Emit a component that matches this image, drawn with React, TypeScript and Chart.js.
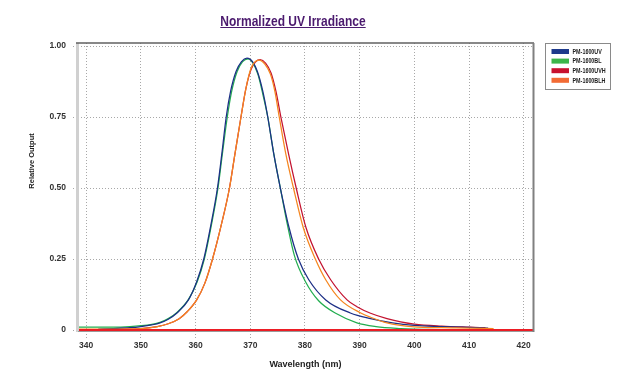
import React, { useEffect, useRef } from "react";
import { Chart, registerables } from "chart.js";

Chart.register(...registerables);

const seriesLabels = ["PM-1600UV", "PM-1600BL", "PM-1600UVH", "PM-1600BLH"];

const uvX = [342.2, 345, 348, 350, 352, 353.5, 355, 356.6, 358.7, 360.2, 361.5, 362.8, 364.0, 364.8, 365.6, 366.4, 367.4, 368.4, 369.4, 370.4, 371.3, 372.3, 373.2, 374.3, 375.5, 377.1, 378.8, 380.7, 383.8, 388.3, 392, 396, 400, 405, 410, 413.5];
const uvY = [0.003, 0.005, 0.008, 0.012, 0.018, 0.025, 0.038, 0.06, 0.106, 0.17, 0.25, 0.37, 0.5, 0.62, 0.75, 0.84, 0.91, 0.945, 0.957, 0.945, 0.91, 0.84, 0.75, 0.62, 0.5, 0.36, 0.25, 0.177, 0.106, 0.06, 0.04, 0.025, 0.016, 0.012, 0.009, 0.007];

const blX = [338.5, 345, 348, 350, 352, 353.5, 355, 356.6, 358.7, 360.3, 361.6, 362.9, 364.1, 364.9, 365.8, 366.6, 367.6, 368.6, 369.6, 370.5, 371.4, 372.3, 373.2, 374.3, 375.5, 376.8, 378.1, 380.1, 382.5, 385.8, 389.5, 393, 397.5, 400, 410, 421.7];
const blY = [0.01, 0.01, 0.012, 0.015, 0.02, 0.027, 0.04, 0.062, 0.108, 0.17, 0.25, 0.37, 0.5, 0.62, 0.75, 0.84, 0.91, 0.945, 0.955, 0.94, 0.9, 0.83, 0.75, 0.62, 0.5, 0.37, 0.26, 0.17, 0.103, 0.057, 0.025, 0.012, 0.005, 0.003, 0.001, 0];

const uvhX = [345, 350, 353, 355, 357, 358.5, 360.2, 361.7, 363.1, 364.7, 366.2, 367.2, 368.3, 369.2, 370.2, 371.8, 372.8, 373.8, 374.7, 375.6, 377.0, 378.4, 380.2, 382.5, 384.7, 387.7, 389.5, 392, 395, 397.5, 400, 405, 410, 413];
const uvhY = [0.002, 0.005, 0.012, 0.022, 0.04, 0.065, 0.106, 0.165, 0.25, 0.37, 0.5, 0.62, 0.75, 0.85, 0.92, 0.952, 0.94, 0.905, 0.84, 0.75, 0.62, 0.5, 0.36, 0.25, 0.177, 0.106, 0.082, 0.059, 0.04, 0.029, 0.021, 0.014, 0.01, 0.008];

const blhX = [338.5, 345, 348, 350, 353, 355, 357, 358.5, 360.2, 361.7, 363.1, 364.7, 366.2, 367.2, 368.3, 369.2, 370.1, 371.6, 372.7, 373.7, 374.5, 375.3, 376.5, 377.9, 379.7, 381.9, 383.8, 386.5, 390.2, 392, 395, 400, 405, 410, 414.5];
const blhY = [0.003, 0.003, 0.004, 0.005, 0.012, 0.022, 0.04, 0.065, 0.106, 0.165, 0.25, 0.37, 0.5, 0.62, 0.75, 0.85, 0.92, 0.95, 0.935, 0.9, 0.84, 0.75, 0.62, 0.5, 0.36, 0.25, 0.177, 0.106, 0.06, 0.045, 0.025, 0.011, 0.008, 0.007, 0.005];

const baselineX = [338.5, 421.7];
const baselineY = [0, 0];

const xTicks = [340, 350, 360, 370, 380, 390, 400, 410, 420];
const yTicks = [0, 0.25, 0.5, 0.75, 1.0];

const lineColors = ["#1c2f86", "#22ad4f", "#c3122f", "#f5861f"];
const swatchColors = ["#1e3a8c", "#3cb54a", "#c8102e", "#f26b35"];
const drawOrder = [2, 3, 4, 1];

const zip = (xs: number[], ys: number[]) => xs.map((x, i) => ({ x, y: ys[i] }));

const framePlugin = {
  id: "frame",
  afterDatasetsDraw(chart: any) {
    const { ctx, chartArea: a } = chart;
    ctx.save();
    ctx.lineWidth = 3;
    ctx.strokeStyle = "#d0d0d0";
    ctx.beginPath();
    ctx.moveTo(a.left - 0.5, a.top);
    ctx.lineTo(a.left - 0.5, a.bottom + 1);
    ctx.stroke();
    ctx.lineWidth = 1;
    ctx.strokeStyle = "#9a9a9a";
    ctx.beginPath();
    ctx.moveTo(a.left, a.bottom + 0.5);
    ctx.lineTo(a.right, a.bottom + 0.5);
    ctx.stroke();
    ctx.lineWidth = 1.5;
    ctx.strokeStyle = "#606060";
    ctx.beginPath();
    ctx.moveTo(a.left - 2, a.top);
    ctx.lineTo(a.right + 1, a.top);
    ctx.stroke();
    ctx.strokeStyle = "#808080";
    ctx.lineWidth = 2;
    ctx.beginPath();
    ctx.moveTo(a.right + 0.5, a.top);
    ctx.lineTo(a.right + 0.5, a.bottom + 1);
    ctx.stroke();
    ctx.restore();
  },
};

const yTitlePlugin = {
  id: "yTitle",
  afterDraw(chart: any) {
    const { ctx } = chart;
    ctx.save();
    ctx.translate(32, 161);
    ctx.rotate(-Math.PI / 2);
    ctx.font = "bold 7.5px Arial, 'Liberation Sans', sans-serif";
    ctx.fillStyle = "#222222";
    ctx.textAlign = "center";
    ctx.textBaseline = "middle";
    ctx.fillText("Relative Output", 0, 0);
    ctx.restore();
  },
};

const legendPlugin = {
  id: "boxLegend",
  afterDraw(chart: any) {
    const { ctx } = chart;
    const left = 545.5;
    const top = 43.5;
    const w = 65;
    const h = 46;
    ctx.save();
    ctx.fillStyle = "#ffffff";
    ctx.fillRect(left, top, w, h);
    ctx.strokeStyle = "#8a8a8a";
    ctx.lineWidth = 1;
    ctx.strokeRect(left, top, w, h);
    seriesLabels.forEach((label, i) => {
      const cy = 51.5 + i * 9.6;
      ctx.fillStyle = swatchColors[i];
      ctx.fillRect(551.5, cy - 2.5, 17.5, 5);
      ctx.save();
      ctx.translate(572.5, cy + 0.3);
      ctx.scale(0.77, 1);
      ctx.font = "bold 7px Arial, 'Liberation Sans', sans-serif";
      ctx.textBaseline = "middle";
      ctx.textAlign = "left";
      ctx.fillStyle = "#222222";
      ctx.fillText(label, 0, 0);
      ctx.restore();
    });
    ctx.restore();
  },
};

export default function App() {
  const canvasRef = useRef<HTMLCanvasElement | null>(null);

  useEffect(() => {
    if (!canvasRef.current) return;
    const tickFont = { family: "Arial, 'Liberation Sans', sans-serif", size: 8.5, weight: "bold" as const };
    const datasets: any[] = [
      { label: seriesLabels[0], data: zip(uvX, uvY), borderColor: lineColors[0], order: drawOrder[0] },
      { label: seriesLabels[1], data: zip(blX, blY), borderColor: lineColors[1], order: drawOrder[1] },
      { label: seriesLabels[2], data: zip(uvhX, uvhY), borderColor: lineColors[2], order: drawOrder[2] },
      { label: seriesLabels[3], data: zip(blhX, blhY), borderColor: lineColors[3], order: drawOrder[3] },
    ].map((d) => ({ ...d, borderWidth: 1.25, pointRadius: 0, fill: false, cubicInterpolationMode: "monotone" }));
    datasets.push({
      label: "baseline",
      data: zip(baselineX, baselineY),
      borderColor: "#ec1c24",
      borderWidth: 2,
      pointRadius: 0,
      fill: false,
      order: 0,
    });

    const chart = new Chart(canvasRef.current, {
      type: "line",
      data: { datasets },
      options: {
        animation: false,
        responsive: false,
        layout: { padding: { top: 43, right: 107, left: 0, bottom: 0 } },
        plugins: { legend: { display: false }, tooltip: { enabled: false }, title: { display: false } },
        scales: {
          x: {
            type: "linear",
            min: 338.5,
            max: 421.7,
            afterFit: (s: any) => {
              s.height = 51;
            },
            afterBuildTicks: (s: any) => {
              s.ticks = xTicks.map((v) => ({ value: v }));
            },
            ticks: { font: tickFont, color: "#333333", padding: 3, maxRotation: 0, autoSkip: false, callback: (v: any) => String(v) },
            grid: { color: "#a8a8a8", lineWidth: 1, tickLength: 7, tickColor: "#a8a8a8", tickBorderDash: [1, 2] },
            border: { display: false, dash: [1, 2] },
            title: {
              display: true,
              text: "Wavelength (nm)",
              font: { family: "Arial, 'Liberation Sans', sans-serif", size: 9, weight: "bold" },
              color: "#222222",
              padding: { top: 0, bottom: 11.6 },
            },
          },
          y: {
            type: "linear",
            min: -0.0035,
            max: 1.0106,
            afterFit: (s: any) => {
              s.width = 78;
            },
            afterBuildTicks: (s: any) => {
              s.ticks = yTicks.map((v) => ({ value: v }));
            },
            ticks: {
              font: tickFont,
              color: "#333333",
              padding: 7,
              callback: (v: any) => (v === 0 ? "0" : Number(v).toFixed(2)),
            },
            grid: { color: "#a8a8a8", lineWidth: 1, tickLength: 5, tickColor: "#a8a8a8", tickBorderDash: [1, 2] },
            border: { display: false, dash: [1, 2] },
          },
        },
      },
      plugins: [framePlugin, yTitlePlugin, legendPlugin],
    });
    return () => chart.destroy();
  }, []);

  return (
    <div style={{ position: "fixed", left: 0, top: 0, width: 640, height: 382, background: "#ffffff" }}>
      <div
        style={{
          position: "absolute",
          left: 143,
          top: 13,
          width: 300,
          textAlign: "center",
          fontFamily: "Arial, 'Liberation Sans', sans-serif",
          fontWeight: "bold",
          fontSize: "15px",
          lineHeight: "16px",
          color: "#4b1a6e",
          textDecoration: "underline",
          transform: "scaleX(0.8)",
          transformOrigin: "150px 50%",
        }}
      >
        Normalized UV Irradiance
      </div>
      <canvas ref={canvasRef} width={640} height={382} style={{ display: "block" }} />
    </div>
  );
}
